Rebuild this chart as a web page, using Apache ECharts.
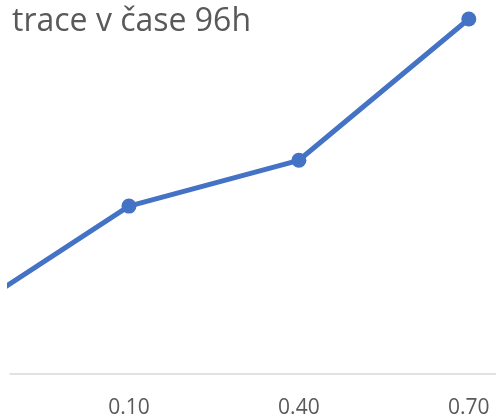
<!DOCTYPE html>
<html>
<head>
<meta charset="utf-8">
<script src="https://cdn.jsdelivr.net/npm/echarts@6/dist/echarts.min.js"></script>
<style>html,body{margin:0;padding:0;background:#fff;}#c{width:496px;height:419px;}</style>
</head>
<body>
<div id="c"></div>
<script>
var titleText = 'trace v čase 96h';
var categories = ['0.01', '0.10', '0.40', '0.70'];
var values = [16.0, 47.3, 60.2, 100];

var chart = echarts.init(document.getElementById('c'), null, {renderer: 'canvas'});
var pts = values.map(function (v, i) { return [i, v]; });
chart.setOption({
  animation: false,
  title: {
    text: titleText, left: 7, top: 1,
    textStyle: {fontFamily: 'Open Sans', fontSize: 32, fontWeight: 'normal', color: '#595959'}
  },
  grid: {left: 10, right: 0, top: 19, bottom: 43},
  xAxis: {
    type: 'value', min: 0.3, max: 3.16,
    splitLine: {show: false},
    axisLine: {show: true, lineStyle: {color: '#d9d9d9', width: 1.5}},
    axisTick: {show: false},
    axisLabel: {
      customValues: [1, 2, 3],
      formatter: function (v) { return categories[Math.round(v)]; },
      fontFamily: 'Open Sans', fontSize: 21, color: '#595959', margin: 24
    }
  },
  yAxis: {
    type: 'value', min: 0, max: 100, show: false
  },
  series: [{
    type: 'line', data: pts,
    symbol: 'circle', symbolSize: 15,
    lineStyle: {color: '#4472C4', width: 5},
    itemStyle: {color: '#4472C4'}
  }]
});
</script>
</body>
</html>
